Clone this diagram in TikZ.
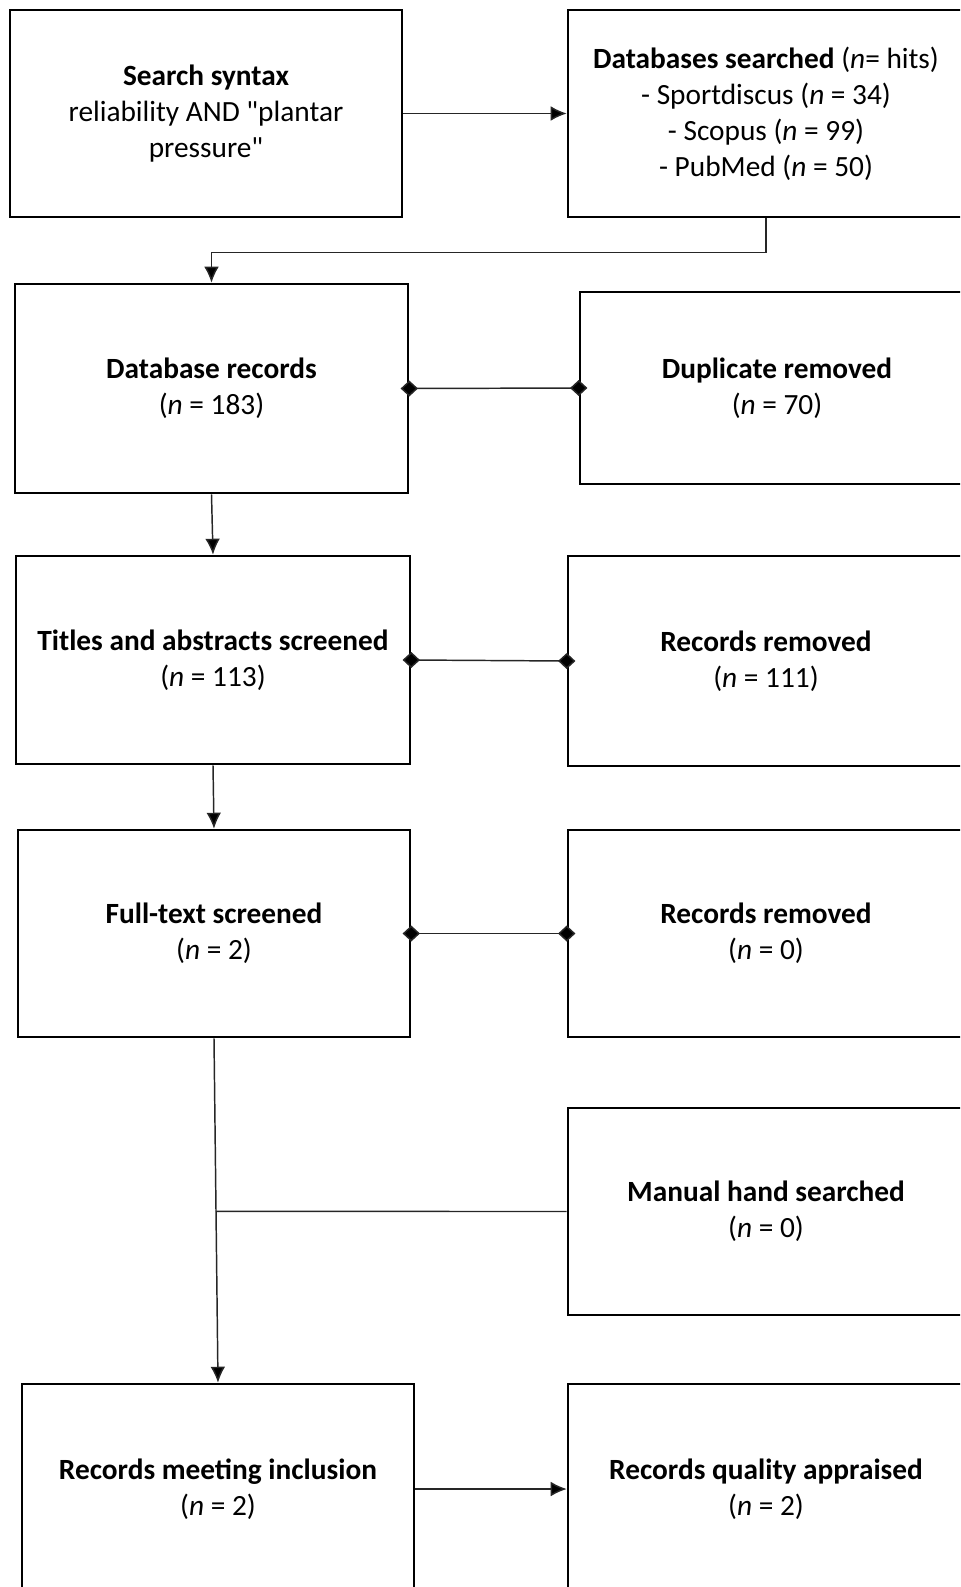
\documentclass[tikz,border=0pt]{standalone}
\usepackage{fontspec}
\setmainfont{Carlito}[Ligatures=TeXOff]
\usetikzlibrary{arrows.meta}
\tikzset{
  box/.style={draw=black, line width=1.9pt, rectangle, inner sep=0pt, align=center,
    font=\fontsize{22}{27}\selectfont},
  conn/.style={draw=black!85, line width=1.1pt},
  arr/.style={conn, -{Latex[length=12pt,width=11pt,fill=black]}},
  dia/.style={conn, {Diamond[length=13pt,width=12pt,fill=black]}-{Diamond[length=13pt,width=12pt,fill=black]},
    shorten <=-6.5pt, shorten >=-6.5pt},
}
\begin{document}
\begin{tikzpicture}[x=0.75pt,y=-0.75pt]
\useasboundingbox (0,0) rectangle (960,1587);
\clip (0,0) rectangle (960,1587);
\node[box, minimum width=294pt, minimum height=155.25pt] (b1) at (206,113.5)
  {\textbf{Search syntax}\\reliability AND "plantar\\pressure"};
\node[box, minimum width=297pt, minimum height=155.25pt] (b2) at (766,113.5)
  {\textbf{Databases searched} (\textit{n}= hits)\\- Sportdiscus (\textit{n} = 34)\\- Scopus (\textit{n} = 99)\\- PubMed (\textit{n} = 50)};
\node[box, minimum width=294.75pt, minimum height=156.75pt] (b3) at (211.5,388.5)
  {\textbf{Database records}\\(\textit{n} = 183)};
\node[box, minimum width=295.5pt, minimum height=144pt] (b4) at (777,388)
  {\textbf{Duplicate removed}\\(\textit{n} = 70)};
\node[box, minimum width=295.5pt, minimum height=156pt] (b5) at (213,660)
  {\textbf{Titles and abstracts screened}\\(\textit{n} = 113)};
\node[box, minimum width=297pt, minimum height=157.5pt] (b6) at (766,661)
  {\textbf{Records removed}\\(\textit{n} = 111)};
\node[box, minimum width=294pt, minimum height=155.25pt] (b7) at (214,933.5)
  {\textbf{Full-text screened}\\(\textit{n} = 2)};
\node[box, minimum width=297pt, minimum height=155.25pt] (b8) at (766,933.5)
  {\textbf{Records removed}\\(\textit{n} = 0)};
\node[box, minimum width=297pt, minimum height=155.25pt] (b9) at (766,1211.5)
  {\textbf{Manual hand searched}\\(\textit{n} = 0)};
\node[box, minimum width=294pt, minimum height=157.5pt] (b10) at (218,1489)
  {\textbf{Records meeting inclusion}\\(\textit{n} = 2)};
\node[box, minimum width=297pt, minimum height=157.5pt] (b11) at (766,1489)
  {\textbf{Records quality appraised}\\(\textit{n} = 2)};

\draw[arr] (b1.east) -- (b2.west);
\draw[arr] (b2.south) -- ++(0,34) -| (b3.north);
\draw[dia] (b3.east) -- (b4.west);
\draw[arr] (b3.south) -- (b5.north);
\draw[dia] (b5.east) -- (b6.west);
\draw[arr] (b5.south) -- (b7.north);
\draw[dia] (b7.east) -- (b8.west);
\draw[arr] (b7.south) -- (b10.north);
\coordinate (far) at (b9.west -| b1.west);
\coordinate (j) at (intersection of b7.south--b10.north and b9.west--far);
\draw[conn] (b9.west) -- (j);
\draw[arr] (b10.east) -- (b11.west);
\end{tikzpicture}
\end{document}
